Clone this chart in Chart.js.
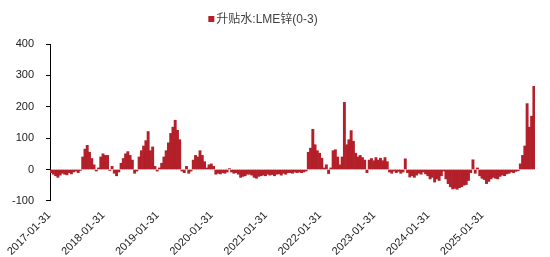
<!DOCTYPE html>
<html>
<head>
<meta charset="utf-8">
<script src="https://cdn.jsdelivr.net/npm/chart.js@4/dist/chart.umd.min.js"></script>
<style>
  html, body { margin: 0; padding: 0; background: #fff; }
  #wrap { width: 550px; height: 257px; position: relative; }
</style>
</head>
<body>
<div id="wrap"><canvas id="basisChart"></canvas></div>
<script>
// LME zinc 0-3 spread, two values per month (mid / end),
// the series starts on 2017-01-31
const v2017 = [-10, -15, -20, -25, -18, -12, -15, -17, -10, -14, -8, -5, -10, -3, 40, 65, 77, 55, 35, 15, -5, 5, 40];
const v2018 = [50, 45, 45, -3, 10, -12, -20, -8, 20, 35, 50, 57, 45, 30, -12, -5, 40, 60, 75, 92, 121, 60, 72, 10];
const v2019 = [-5, 5, 20, 40, 60, 85, 115, 135, 157, 125, 95, -5, -10, 10, -12, -5, 30, 45, 40, 60, 45, 25, 5, 15];
const v2020 = [18, 10, -15, -12, -14, -10, -12, -8, 3, -8, -12, -10, -15, -25, -22, -20, -15, -15, -18, -25, -28, -22, -20, -18];
const v2021 = [-20, -15, -18, -16, -20, -15, -14, -18, -12, -15, -10, -10, -12, -8, -10, -8, -10, -8, -5, 55, 68, 128, 79, 60];
const v2022 = [52, 36, 5, 15, -13, 5, 60, 63, 40, 15, 40, 214, 79, 95, 124, 90, 52, 40, 45, 38, 30, -10, 30, 35];
const v2023 = [28, 38, 30, 36, 28, 38, 25, -8, -12, -5, -10, -6, -12, -8, 34, -10, -24, -20, -25, -18, -12, -15, -8, -14];
const v2024 = [-20, -30, -25, -40, -30, -35, -20, -5, -30, -45, -55, -62, -60, -63, -58, -55, -50, -48, -35, -10, 31, -12, 5, -20];
const v2025 = [-28, -32, -45, -38, -30, -25, -28, -30, -22, -18, -20, -14, -12, -8, -10, -6, -4, 18, 45, 75, 210, 135, 170, 265];

const years = [2017, 2018, 2019, 2020, 2021, 2022, 2023, 2024, 2025];
const tickLabels = ["2017-01-31", "2018-01-31", "2019-01-31", "2020-01-31", "2021-01-31",
  "2022-01-31", "2023-01-31", "2024-01-31", "2025-01-31"];
const seriesName = "升贴水:LME锌(0-3)";
const barColor = "#b3202a";

const values = [].concat(v2017, v2018, v2019, v2020, v2021, v2022, v2023, v2024, v2025);

// category labels: the 15th and the last day of every month, from 2017-01-31 on
const labels = [];
years.forEach(function (y) {
  for (let m = 1; m <= 12; m++) {
    const mm = String(m).padStart(2, "0");
    const last = new Date(y, m, 0).getDate();
    if (!(y === 2017 && m === 1)) labels.push(y + "-" + mm + "-15");
    labels.push(y + "-" + mm + "-" + last);
  }
});

const font = { family: "'Liberation Sans', Arial, 'Noto Sans CJK SC', sans-serif", size: 11 };

// legend drawn by hand, it sits a bit left of the centre in the original
const topLegend = {
  id: "topLegend",
  afterDraw: function (chart) {
    const c = chart.ctx;
    const ds = chart.data.datasets[0];
    c.save();
    c.font = "12px 'Liberation Sans', 'Noto Sans CJK SC', sans-serif";
    const w = c.measureText(ds.label).width + 8;
    const x0 = 263 - w / 2;
    c.fillStyle = ds.backgroundColor;
    c.fillRect(x0, 16, 6, 6);
    c.fillStyle = "#404040";
    c.textBaseline = "middle";
    c.fillText(ds.label, x0 + 8, 19.5);
    c.restore();
  },
};

const ctx = document.getElementById("basisChart").getContext("2d");
const chart = new Chart(ctx, {
  type: "bar",
  data: {
    labels: labels,
    datasets: [
      {
        label: seriesName,
        data: values,
        backgroundColor: barColor,
        borderWidth: 0,
        barPercentage: 1.0,
        categoryPercentage: 1.0,
      },
    ],
  },
  plugins: [topLegend],
  options: {
    responsive: true,
    maintainAspectRatio: false,
    animation: false,
    layout: { padding: { top: 44, right: 15, left: 0, bottom: -1 } },
    plugins: {
      tooltip: { enabled: false },
      legend: { display: false },
    },
    scales: {
      x: {
        grid: { display: false },
        border: { display: false },
        ticks: {
          autoSkip: false,
          minRotation: 45,
          maxRotation: 45,
          padding: 0,
          labelOffset: -2,
          color: "#222",
          font: font,
          callback: function (val) {
            const l = this.getLabelForValue(val);
            return tickLabels.includes(l) ? l : "";
          },
        },
      },
      y: {
        min: -100,
        max: 400,
        border: { display: true, color: "#000", width: 1 },
        grid: { drawOnChartArea: false, drawTicks: true, tickLength: 4, color: "#000" },
        ticks: { stepSize: 50, padding: 12, color: "#222", font: font },
      },
    },
  },
});
</script>
</body>
</html>
